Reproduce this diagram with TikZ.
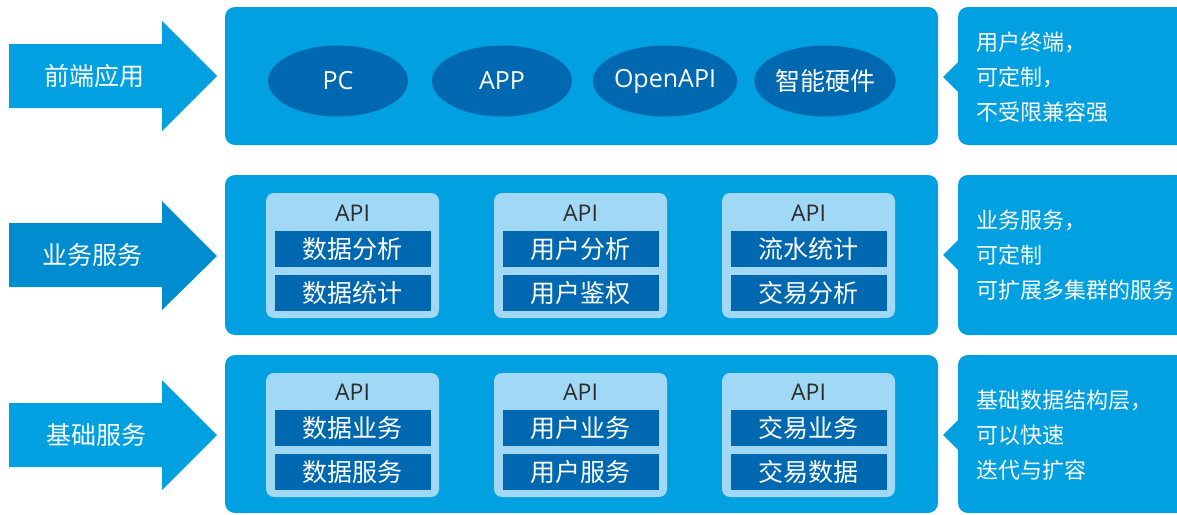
\documentclass[tikz,border=0pt]{standalone}
\usepackage{fontspec}
\setmainfont{Noto Sans CJK SC}
\newfontfamily\latinfont{Open Sans}
\usetikzlibrary{shapes.geometric}
\definecolor{mainblue}{RGB}{0,160,225}
\definecolor{arrowdark}{RGB}{0,141,208}
\definecolor{deepblue}{RGB}{0,104,176}
\definecolor{lightblue}{RGB}{160,216,245}
\definecolor{apigray}{RGB}{45,45,45}
\tikzset{
  panel/.style={fill=mainblue,draw=none,rounded corners=10pt},
  arrowtext/.style={text=white,font=\fontsize{25}{30}\selectfont,inner sep=0pt},
  oval/.style={ellipse,fill=deepblue,draw=none,minimum width=140pt,minimum height=71pt,inner sep=0pt,text=white,font=\fontsize{25}{30}\selectfont},
  modbox/.style={fill=lightblue,draw=none,rounded corners=8pt},
  bar/.style={fill=deepblue,draw=none,minimum width=156pt,minimum height=36pt,inner sep=0pt,text=white,font=\fontsize{25}{30}\selectfont},
  apitext/.style={text=apigray,font=\latinfont\fontsize{23}{26}\selectfont,inner sep=0pt},
  notetext/.style={text=white,font=\fontsize{22}{35}\selectfont,align=left,inner sep=0pt,anchor=west}
}
\begin{document}
\begin{tikzpicture}[x=1pt,y=-1pt]
\useasboundingbox (0,0) rectangle (1177,514);
\clip (0,0) rectangle (1177,514);
% ---------- left arrows ----------
\fill[mainblue] (9,44) -- (162,44) -- (162,21) -- (217,76) -- (162,131) -- (162,108) -- (9,108) -- cycle;
\node[arrowtext] (a1) at (94,76) {前端应用};
\fill[arrowdark] (9,223) -- (162,223) -- (162,201) -- (217,256) -- (162,310) -- (162,287) -- (9,287) -- cycle;
\node[arrowtext] (a2) at (92,255) {业务服务};
\fill[mainblue] (9,403) -- (162,403) -- (162,380) -- (217,435) -- (162,490) -- (162,467) -- (9,467) -- cycle;
\node[arrowtext] (a3) at (96,435) {基础服务};
% ---------- main panels ----------
\fill[panel] (225,7) rectangle (938,145);
\fill[panel] (225,175) rectangle (938,335);
\fill[panel] (225,355) rectangle (938,513);
% ---------- right note panels ----------
\fill[panel] (958,7) rectangle (1195,145);
\fill[mainblue] (958,62) -- (943,77) -- (958,92) -- cycle;
\fill[panel] (958,175) rectangle (1195,335);
\fill[mainblue] (958,240) -- (943,255) -- (958,270) -- cycle;
\fill[panel] (958,355) rectangle (1195,513);
\fill[mainblue] (958,420) -- (943,435) -- (958,450) -- cycle;
\node[notetext] (n1) at (976,77) {用户终端，\\可定制，\\不受限兼容强};
\node[notetext] (n2) at (976,255) {业务服务，\\可定制\\可扩展多集群的服务};
\node[notetext] (n3) at (976,435) {基础数据结构层，\\可以快速\\迭代与扩容};
% ---------- front-end ovals ----------
\node[oval] (pc) at (338,81) {\latinfont PC};
\node[oval] (app) at (502,81) {\latinfont APP};
\node[oval] (oapi) at (665,81) {\latinfont OpenAPI};
\node[oval] (hw) at (825,81) {智能硬件};
% ---------- business modules ----------
\fill[modbox] (266,193) rectangle (439,318);
\fill[modbox] (494,193) rectangle (667,318);
\fill[modbox] (722,193) rectangle (895,318);
\node[apitext] (b1api) at (352.5,213) {API};
\node[apitext] (b2api) at (580.5,213) {API};
\node[apitext] (b3api) at (808.5,213) {API};
\node[bar] (b1a) at (352.5,249) {数据分析};
\node[bar] (b1b) at (352.5,293) {数据统计};
\node[bar] (b2a) at (580.5,249) {用户分析};
\node[bar] (b2b) at (580.5,293) {用户鉴权};
\node[bar] (b3a) at (808.5,249) {流水统计};
\node[bar] (b3b) at (808.5,293) {交易分析};
% ---------- base modules ----------
\fill[modbox] (266,373) rectangle (439,497);
\fill[modbox] (494,373) rectangle (667,497);
\fill[modbox] (722,373) rectangle (895,497);
\node[apitext] (c1api) at (352.5,392) {API};
\node[apitext] (c2api) at (580.5,392) {API};
\node[apitext] (c3api) at (808.5,392) {API};
\node[bar] (c1a) at (352.5,428) {数据业务};
\node[bar] (c1b) at (352.5,472) {数据服务};
\node[bar] (c2a) at (580.5,428) {用户业务};
\node[bar] (c2b) at (580.5,472) {用户服务};
\node[bar] (c3a) at (808.5,428) {交易业务};
\node[bar] (c3b) at (808.5,472) {交易数据};
\end{tikzpicture}
\end{document}
